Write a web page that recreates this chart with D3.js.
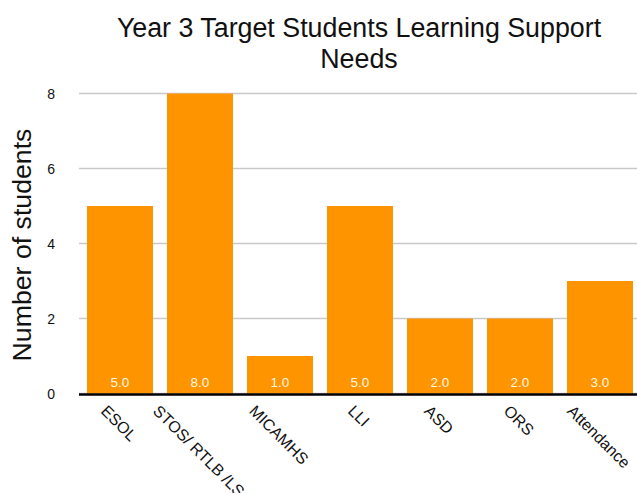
<!DOCTYPE html>
<html>
<head>
<meta charset="utf-8">
<script src="https://cdn.jsdelivr.net/npm/d3@7"></script>
<style>
  html, body { margin: 0; padding: 0; background: #fff; }
  svg { display: block; }
  text { font-family: Helvetica, Arial, "Liberation Sans", sans-serif; }
</style>
</head>
<body>
<script>
// Learning support needs for Year 3 target students
const categories = ["ESOL", "STOS/ RTLB /LS", "MICAMHS", "LLI", "ASD", "ORS", "Attendance"];
const values = [5.0, 8.0, 1.0, 5.0, 2.0, 2.0, 3.0];
const yTicks = [0, 2, 4, 6, 8];
const titleLines = ["Year 3 Target Students Learning Support", "Needs"];
const yTitle = "Number of students";

const W = 637, H = 493;
const svg = d3.select("body").append("svg").attr("width", W).attr("height", H);

const x = d3.scaleBand().domain(categories).range([80, 640]).paddingInner(0.175).paddingOuter(0.0875);
const y = d3.scaleLinear().domain([0, 8]).range([393.5, 93.5]);

// Horizontal gridlines
svg.append("g").selectAll("line").data(yTicks).join("line")
  .attr("x1", 79).attr("x2", W)
  .attr("y1", d => y(d)).attr("y2", d => y(d))
  .attr("stroke", "#c9c9c9").attr("stroke-width", 1.3);

// Y tick labels
svg.append("g").selectAll("text").data(yTicks).join("text")
  .attr("x", 55).attr("y", d => y(d) + 5)
  .attr("text-anchor", "end").attr("font-size", 14).attr("fill", "#111")
  .text(d => d);

// Bars
svg.append("g").selectAll("rect").data(values).join("rect")
  .attr("x", (d, i) => x(categories[i]))
  .attr("width", x.bandwidth())
  .attr("y", d => y(d))
  .attr("height", d => y(0) - y(d))
  .attr("fill", "#fe9400");

// Value labels inside bars
svg.append("g").selectAll("text").data(values).join("text")
  .attr("x", (d, i) => x(categories[i]) + x.bandwidth() / 2)
  .attr("y", 386.5)
  .attr("text-anchor", "middle").attr("font-size", 13.5).attr("fill", "#fff9e8")
  .text(d => d.toFixed(1));

// Baseline
svg.append("line").attr("x1", 79).attr("x2", W)
  .attr("y1", y(0) + 1).attr("y2", y(0) + 1)
  .attr("stroke", "#000").attr("stroke-width", 2.5);

// Rotated category labels (the long one runs past the bottom edge)
const xl = svg.append("g").selectAll("text").data(categories).join("text")
  .attr("font-size", 16).attr("fill", "#111")
  .text(d => d);
xl.each(function(d) {
  const w = this.getComputedTextLength();
  const cx = x(d) + x.bandwidth() / 2;
  const ox = cx - 0.354 * w - 5;
  const oy = 412;
  d3.select(this).attr("transform", `translate(${ox},${oy}) rotate(45)`);
});

// Chart title
svg.append("g").selectAll("text").data(titleLines).join("text")
  .attr("x", 359).attr("y", (d, i) => 37 + i * 31)
  .attr("text-anchor", "middle").attr("font-size", 26.8).attr("fill", "#111")
  .text(d => d);

// Y axis title
svg.append("text")
  .attr("transform", "translate(31,245) rotate(-90)")
  .attr("text-anchor", "middle").attr("font-size", 26.7).attr("fill", "#111")
  .text(yTitle);
</script>
</body>
</html>
